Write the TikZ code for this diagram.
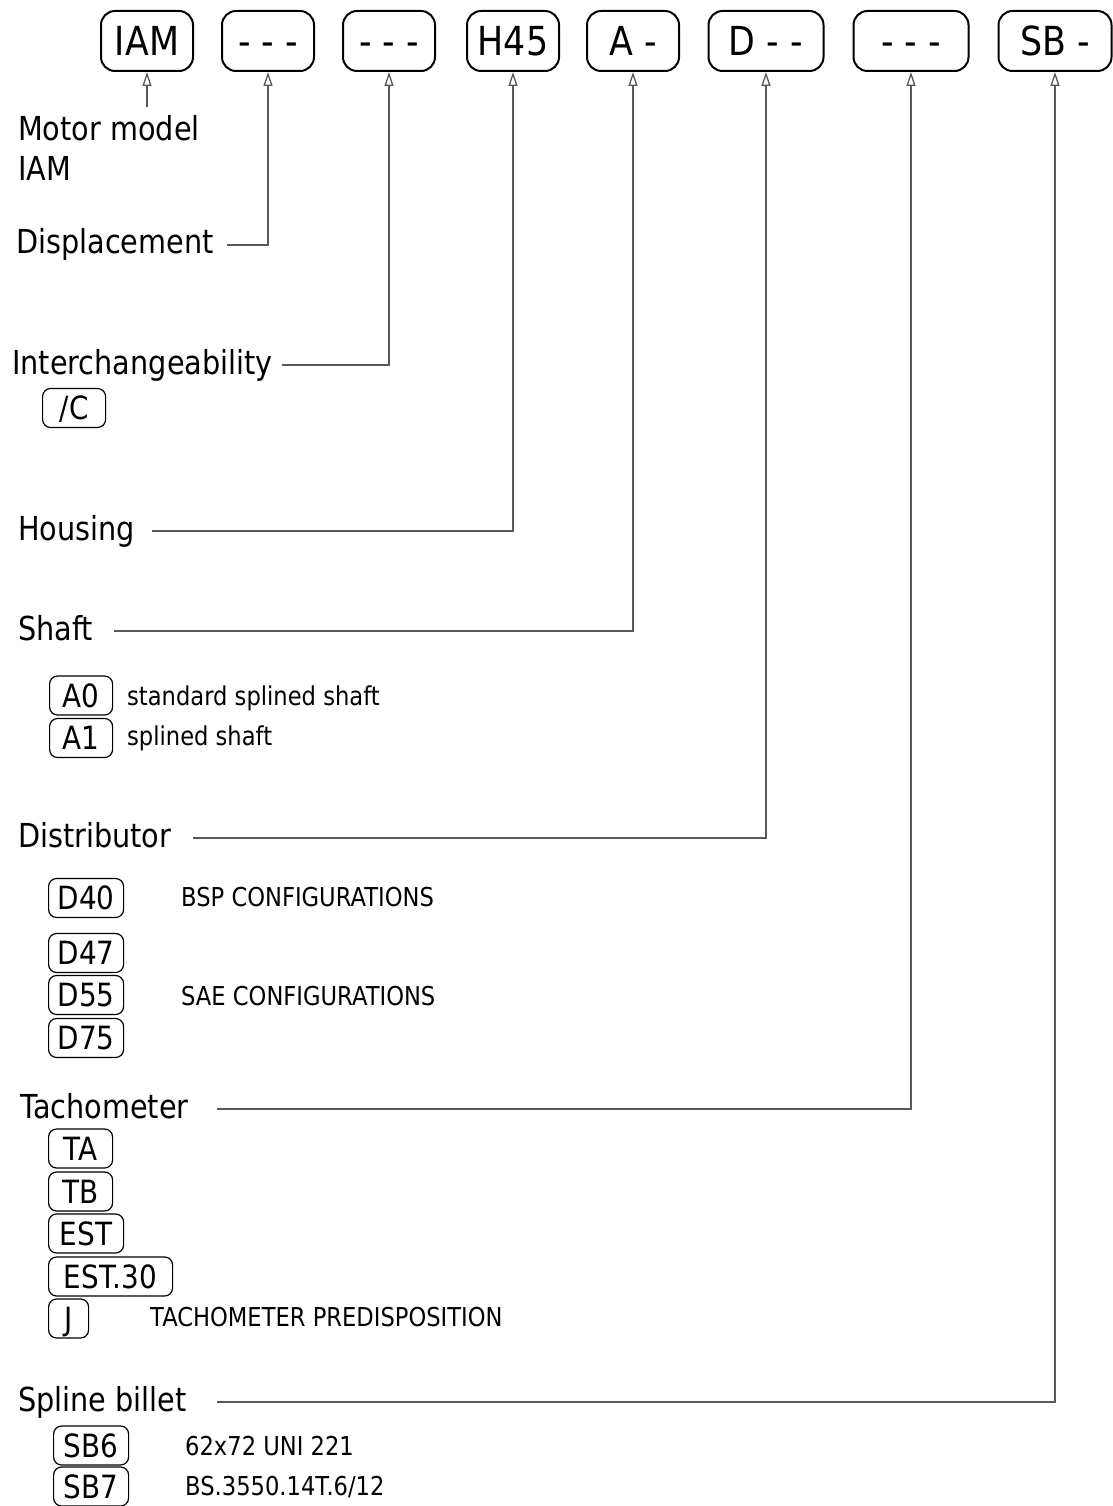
\documentclass[tikz,border=0pt]{standalone}
\usepackage{fontspec}
\setmainfont[FakeStretch=0.87]{DejaVu Sans}
\usetikzlibrary{arrows.meta}

\begin{document}
\begin{tikzpicture}[
    x=1pt, y=-1pt,
    code/.style={draw, line width=2pt, rounded corners=14pt, minimum width=92pt, minimum height=60pt, inner sep=0pt, text height=29pt, text depth=0pt, font=\fontsize{40}{44}\selectfont},
    opt/.style={draw, line width=1.2pt, rounded corners=8pt, minimum height=39pt, inner sep=0pt, anchor=west, text height=23pt, text depth=0pt, font=\fontsize{32}{35}\selectfont},
    lbl/.style={anchor=base west, inner sep=0pt, text height=18pt, text depth=0pt, font=\fontsize{33}{40}\selectfont},
    note/.style={anchor=base west, inner sep=0pt, font=\fontsize{26}{29}\selectfont},
    link/.style={draw=black!65, line width=1.3pt, -{Triangle[open, length=14pt, width=9pt]}}
]
\useasboundingbox (0,0) rectangle (1112,1506);

% code boxes
\node[code] (c-model) at (147,41) {IAM};
\node[code] (c-disp) at (268,41) {- - -};
\node[code] (c-inter) at (389,41) {- - -};
\node[code] (c-house) at (513,41) {H45};
\node[code] (c-shaft) at (633,41) {A -};
\node[code, minimum width=115pt] (c-distr) at (766,41) {D - -};
\node[code, minimum width=115pt] (c-tacho) at (911,41) {- - -};
\node[code, minimum width=113pt] (c-spline) at (1055,41) {SB -};

% labels
\node[anchor=base west, inner sep=0pt, align=left, font=\fontsize{33}{40}\selectfont] (l-model) at (18,181) {Motor model\\IAM};
\node[lbl] (l-disp) at (16,254) {Displacement};
\node[lbl] (l-inter) at (12,374) {Interchangeability};
\node[lbl] (l-house) at (18,540) {Housing};
\node[lbl] (l-shaft) at (18,640) {Shaft};
\node[lbl] (l-distr) at (18,847) {Distributor};
\node[lbl] (l-tacho) at (20,1118) {Tachometer};
\node[lbl] (l-spline) at (18,1411) {Spline billet};

% options
\node[opt, minimum width=63pt] (o-c) at (42,408) {/C};
\node[opt, minimum width=63pt] (o-a0) at (49,695.5) {A0};
\node[opt, minimum width=63pt] (o-a1) at (49,738) {A1};
\node[opt, minimum width=75pt] (o-d40) at (48,898) {D40};
\node[opt, minimum width=75pt] (o-d47) at (48,953) {D47};
\node[opt, minimum width=75pt] (o-d55) at (48,995) {D55};
\node[opt, minimum width=75pt] (o-d75) at (48,1038) {D75};
\node[opt, minimum width=64pt] (o-ta) at (48,1148.5) {TA};
\node[opt, minimum width=64pt] (o-tb) at (48,1191.5) {TB};
\node[opt, minimum width=75pt] (o-est) at (48,1233.5) {EST};
\node[opt, minimum width=124pt] (o-est30) at (48,1276.5) {EST.30};
\node[opt, minimum width=40pt] (o-j) at (48,1318.5) {J};
\node[opt, minimum width=75pt] (o-sb6) at (53,1445.5) {SB6};
\node[opt, minimum width=75pt] (o-sb7) at (53,1486.5) {SB7};

% notes
\node[note] (n-a0) at (127,705) {standard splined shaft};
\node[note] (n-a1) at (127,745) {splined shaft};
\node[note] (n-bsp) at (181,906) {BSP CONFIGURATIONS};
\node[note] (n-sae) at (181,1005) {SAE CONFIGURATIONS};
\node[note] (n-j) at (150,1326) {TACHOMETER PREDISPOSITION};
\node[note] (n-sb6) at (185,1455) {62x72 UNI 221};
\node[note] (n-sb7) at (185,1495) {BS.3550.14T.6/12};

% connectors
\coordinate (model-top) at (147,107);
\draw[link] (model-top) -- (c-model.south);
\draw[link] ([xshift=13pt]l-disp.east) -| (c-disp.south);
\draw[link] ([xshift=9pt]l-inter.east) -| (c-inter.south);
\draw[link] ([xshift=17pt]l-house.east) -| (c-house.south);
\draw[link] ([xshift=21pt]l-shaft.east) -| (c-shaft.south);
\draw[link] ([xshift=21pt]l-distr.east) -| (c-distr.south);
\draw[link] ([xshift=28pt]l-tacho.east) -| (c-tacho.south);
\draw[link] ([xshift=30pt]l-spline.east) -| (c-spline.south);
\end{tikzpicture}
\end{document}
